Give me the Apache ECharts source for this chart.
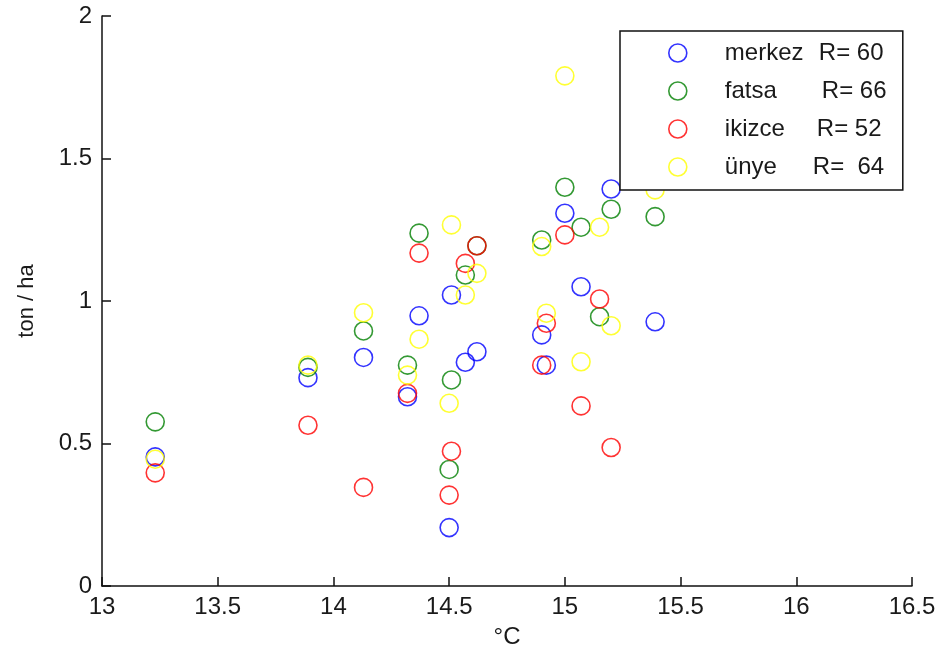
<!DOCTYPE html>
<html>
<head>
<meta charset="utf-8">
<script src="https://cdn.jsdelivr.net/npm/echarts@6/dist/echarts.min.js"></script>
<style>html,body{margin:0;padding:0;background:#fff;}#c{width:946px;height:658px;}</style>
</head>
<body>
<div id="c"></div>
<script>
// Temperatures (°C) shared by all stations
const temps = [13.23, 13.89, 14.13, 14.32, 14.37, 14.50, 14.51, 14.57, 14.62, 14.90, 14.92, 15.00, 15.07, 15.15, 15.20, 15.39];
// Yields (ton / ha); null = not visible in the picture
const merkez = [0.453, 0.731, 0.802, 0.664, 0.948, 0.205, 1.021, 0.785, 0.822, 0.881, 0.775, 1.308, 1.050, null, 1.393, 0.927];
const fatsa  = [0.576, 0.767, 0.895, 0.775, 1.238, 0.409, 0.723, 1.091, 1.194, 1.214, null, 1.399, 1.259, 0.945, 1.322, 1.296];
const ikizce = [0.397, 0.564, 0.346, 0.676, 1.168, 0.319, 0.473, 1.132, 1.194, 0.775, 0.922, 1.232, 0.632, 1.007, 0.486, null];
const unye   = [0.445, 0.775, 0.959, 0.740, 0.866, 0.641, 1.267, 1.021, 1.097, 1.191, 0.957, 1.790, 0.787, 1.259, 0.913, 1.390];
const seriesNames = ['merkez', 'fatsa', 'ikizce', 'ünye'];
const rLabels = ['R= 60', 'R= 66', 'R= 52', 'R=  64'];
const xTicks = [13, 13.5, 14, 14.5, 15, 15.5, 16, 16.5];
const yTicks = [0, 0.5, 1, 1.5, 2];

const colors = ['#0000ff', '#008000', '#ff0000', '#ffff00'];
const values = [merkez, fatsa, ikizce, unye];
const nameWidths = [94, 97, 92, 88];
const FONT = 'Liberation Sans';
const TXT = '#1a1a1a';

const rich = { s: { width: 33, fontSize: 24 } };
seriesNames.forEach((n, i) => {
  rich['a' + i] = { width: nameWidths[i], fontSize: 24, fontFamily: FONT, color: TXT };
  rich['b' + i] = { width: 164 - nameWidths[i], fontSize: 24, fontFamily: FONT, color: TXT };
});

const series = seriesNames.map((n, i) => ({
  name: n,
  type: 'scatter',
  symbol: 'circle',
  symbolSize: 18,
  itemStyle: { color: 'rgba(0,0,0,0)', borderColor: colors[i], borderWidth: 1.6 },
  emphasis: { disabled: true },
  data: temps.map((t, k) => [t, values[i][k]]).filter(d => d[1] !== null)
}));

const chart = echarts.init(document.getElementById('c'), null, { renderer: 'canvas' });
chart.setOption({
  animation: false,
  backgroundColor: '#fff',
  grid: { left: 102, right: 34, top: 16, bottom: 72, containLabel: false },
  xAxis: {
    type: 'value', min: 13, max: 16.5, interval: 0.5,
    name: '°C', nameLocation: 'middle', nameGap: 39,
    nameTextStyle: { fontSize: 24, fontFamily: FONT, color: TXT },
    axisLine: { lineStyle: { color: '#111', width: 1.5 } },
    axisTick: { inside: true, length: 9, lineStyle: { color: '#111', width: 1.5 } },
    axisLabel: { margin: 9, fontSize: 24, fontFamily: FONT, color: TXT,
      formatter: v => { const t = xTicks.find(x => Math.abs(x - v) < 1e-9); return t === undefined ? '' : String(t); } },
    splitLine: { show: false }
  },
  yAxis: {
    type: 'value', min: 0, max: 2, interval: 0.5,
    name: 'ton / ha', nameLocation: 'middle', nameGap: 64, nameRotate: 90,
    nameTextStyle: { fontSize: 22, fontFamily: FONT, color: TXT },
    axisLine: { show: true, lineStyle: { color: '#111', width: 1.5 } },
    axisTick: { show: true, inside: true, length: 9, lineStyle: { color: '#111', width: 1.5 } },
    axisLabel: { margin: 10, fontSize: 24, fontFamily: FONT, color: TXT,
      formatter: v => { const t = yTicks.find(y => Math.abs(y - v) < 1e-9); return t === undefined ? '' : String(t); } },
    splitLine: { show: false }
  },
  legend: {
    orient: 'vertical',
    left: 620, top: 31,
    padding: [10, 14, 11, 48],
    itemWidth: 18, itemHeight: 18, itemGap: 14,
    backgroundColor: '#fff', borderColor: '#111', borderWidth: 1.5,
    selectedMode: false,
    textStyle: { fontSize: 24, fontFamily: FONT, color: TXT, lineHeight: 24, rich: rich },
    formatter: name => { const i = seriesNames.indexOf(name); return '{s| }{a' + i + '|' + name + '}{b' + i + '|' + rLabels[i] + '}'; },
    data: seriesNames.map((n, i) => ({ name: n, icon: 'circle',
      itemStyle: { color: 'rgba(0,0,0,0)', borderColor: colors[i], borderWidth: 1.6 } }))
  },
  series: series
});
</script>
</body>
</html>
